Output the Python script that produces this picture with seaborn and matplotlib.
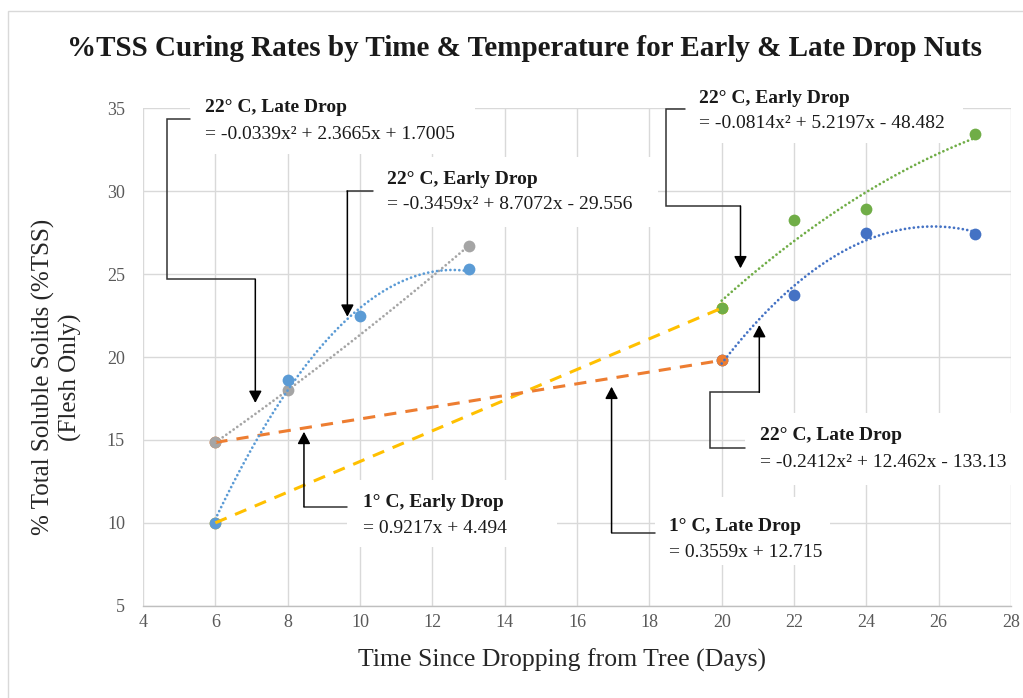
import matplotlib
matplotlib.use("Agg")
import matplotlib.pyplot as plt
import matplotlib.patches as mpatches
import seaborn as sns
import numpy as np

# %TSS readings, 22 C curing, first period (days 6-13)
early_22_a_days = [6, 8, 10, 13]
early_22_a_tss = [10.0, 18.6, 22.45, 25.3]
late_22_a_days = [6, 8, 13]
late_22_a_tss = [14.85, 18.0, 26.7]
# 22 C curing, second period (days 20-27)
early_22_b_days = [20, 22, 24, 27]
early_22_b_tss = [22.95, 28.25, 28.9, 33.45]
late_22_b_days = [20, 22, 24, 27]
late_22_b_tss = [19.8, 23.75, 27.5, 27.45]
# 1 C storage
early_1_days = [6, 20]
early_1_tss = [10.0, 22.95]
late_1_days = [6, 20]
late_1_tss = [14.85, 19.8]

x_ticks = list(range(4, 29, 2))
y_ticks = list(range(5, 36, 5))

title = "%TSS Curing Rates by Time & Temperature for Early & Late Drop Nuts"
x_label = "Time Since Dropping from Tree (Days)"
y_label = "% Total Soluble Solids (%TSS)\n(Flesh Only)"

note_titles = ["22° C, Late Drop", "22° C, Early Drop", "22° C, Early Drop",
               "22° C, Late Drop", "1° C, Early Drop", "1° C, Late Drop"]
note_eqs = ["= -0.0339x² + 2.3665x + 1.7005", "= -0.3459x² + 8.7072x - 29.556",
            "= -0.0814x² + 5.2197x - 48.482", "= -0.2412x² + 12.462x - 133.13",
            "= 0.9217x + 4.494", "= 0.3559x + 12.715"]

c_lblue, c_gray, c_orange = "#5B9BD5", "#A5A5A5", "#ED7D31"
c_yellow, c_dblue, c_green = "#FFC000", "#4472C4", "#70AD47"

sns.set_theme(style="whitegrid")
plt.rcParams['font.family'] = ['Liberation Serif', 'DejaVu Serif']

fig = plt.figure(figsize=(10.23, 6.98), dpi=100)
ax = fig.add_axes([0.1398, 0.1322, 0.8485, 0.7126])
ax.set_axisbelow(True)

# markers (order decides which one sits on top where points coincide)
ms = 72
sns.scatterplot(x=late_22_b_days, y=late_22_b_tss, color=c_dblue, s=ms, linewidth=0, ax=ax, zorder=3)
sns.scatterplot(x=early_1_days, y=early_1_tss, color=c_yellow, s=ms, linewidth=0, ax=ax, zorder=3.1)
sns.scatterplot(x=late_1_days, y=late_1_tss, color=c_orange, s=ms, linewidth=0, ax=ax, zorder=3.2)
sns.scatterplot(x=late_22_a_days, y=late_22_a_tss, color=c_gray, s=ms, linewidth=0, ax=ax, zorder=3.3)
sns.scatterplot(x=early_22_a_days, y=early_22_a_tss, color=c_lblue, s=ms, linewidth=0, ax=ax, zorder=3.4)
sns.scatterplot(x=early_22_b_days, y=early_22_b_tss, color=c_green, s=ms, linewidth=0, ax=ax, zorder=3.5)

# 1 C dashed connections
sns.lineplot(x=early_1_days, y=early_1_tss, color=c_yellow, lw=2.2, dashes=(4, 3), ax=ax, zorder=4)
sns.lineplot(x=late_1_days, y=late_1_tss, color=c_orange, lw=2.2, dashes=(4, 3), ax=ax, zorder=4)

# 2nd order polynomial trendlines, round dots
dot_kws = dict(lw=2.0, linestyle=(0, (0.01, 1.6)), dash_capstyle='round', zorder=4.5)
for xs, ys, col in [(late_22_a_days, late_22_a_tss, c_gray),
                    (early_22_a_days, early_22_a_tss, c_lblue),
                    (early_22_b_days, early_22_b_tss, c_green),
                    (late_22_b_days, late_22_b_tss, c_dblue)]:
    sns.regplot(x=np.array(xs), y=np.array(ys), order=2, ci=None, scatter=False,
                truncate=True, ax=ax, line_kws=dict(color=col, **dot_kws))

ax.set_xlim(4, 28)
ax.set_ylim(5, 35)
ax.set_xticks(x_ticks)
ax.set_yticks(y_ticks)
ax.grid(True, color='#D9D9D9', lw=1.0)
for s in ['top', 'right', 'left']:
    ax.spines[s].set_visible(False)
ax.spines['bottom'].set_color('#BFBFBF')
ax.spines['bottom'].set_linewidth(1.0)
ax.tick_params(axis='both', length=0, labelsize=13, labelcolor='#595959')
ax.tick_params(axis='x', pad=6)
ax.tick_params(axis='y', pad=13)

ax.set_xlabel(x_label, fontsize=18.5, color='#262626')
ax.xaxis.label.set_va('center')
ax.xaxis.set_label_coords(0.483, -0.109)
ax.set_ylabel(y_label, fontsize=18, color='#262626', linespacing=1.25)
ax.yaxis.label.set_va('center')
ax.yaxis.set_label_coords(-0.099, 0.46)

fig.suptitle(title, x=0.513, y=0.931, va='center', fontsize=21, fontweight='bold', color='#1a1a1a')

# outer chart border
fig.patches.append(mpatches.Rectangle((8 / 1023, -0.1), 1.2, 1.1 - 11 / 698, fill=False,
                                      edgecolor='#D9D9D9', lw=1.0, transform=fig.transFigure))

# data label boxes with elbow leader lines
boxes = [(5.30, 32.24, 13.18, 36.35), (10.36, 27.84, 18.24, 32.06), (18.985, 32.91, 26.67, 36.83),
         (20.64, 12.28, 28.11, 16.62), (9.64, 8.54, 15.45, 12.58), (18.155, 7.46, 22.99, 11.56)]
text_pos = [(5.71, 35.08, 33.45), (10.75, 30.68, 29.17), (19.37, 35.62, 34.11),
            (21.06, 15.24, 13.61), (10.08, 11.25, 9.68), (18.55, 9.75, 8.24)]
leaders = [
    [(5.30, 34.34), (4.655, 34.34), (4.655, 24.69), (7.105, 24.69), (7.105, 17.23)],
    [(10.36, 30.01), (9.65, 30.01), (9.65, 22.43)],
    [(18.985, 34.94), (18.47, 34.94), (18.47, 29.11), (20.52, 29.11), (20.52, 25.35)],
    [(20.64, 14.53), (19.675, 14.53), (19.675, 17.87), (21.04, 17.87), (21.04, 21.93)],
    [(9.63, 10.97), (8.45, 10.97), (8.45, 15.49)],
    [(18.155, 9.40), (16.955, 9.40), (16.955, 18.21)],
]

for i in range(len(note_titles)):
    x0, y0, x1, y1 = boxes[i]
    ax.add_patch(mpatches.Rectangle((x0, y0), x1 - x0, y1 - y0, facecolor='white',
                                    edgecolor='none', zorder=2, clip_on=False))
    tx, ty, ey = text_pos[i]
    ax.text(tx, ty, note_titles[i], fontsize=14, fontweight='bold', color='#1a1a1a',
            ha='left', va='center', zorder=6)
    ax.text(tx, ey, note_eqs[i], fontsize=14, color='#1a1a1a', ha='left', va='center', zorder=6)
    pts = leaders[i]
    ax.plot([p[0] for p in pts[:-1]], [p[1] for p in pts[:-1]], color='#333333', lw=1.1,
            clip_on=False, zorder=5, solid_joinstyle='miter')
    ax.annotate("", xy=pts[-1], xytext=pts[-2],
                arrowprops=dict(arrowstyle="-|>,head_length=0.6,head_width=0.32", mutation_scale=12,
                                color='black', lw=1.1, shrinkA=0, shrinkB=0), zorder=5)

fig.savefig("out.png", dpi=100)
